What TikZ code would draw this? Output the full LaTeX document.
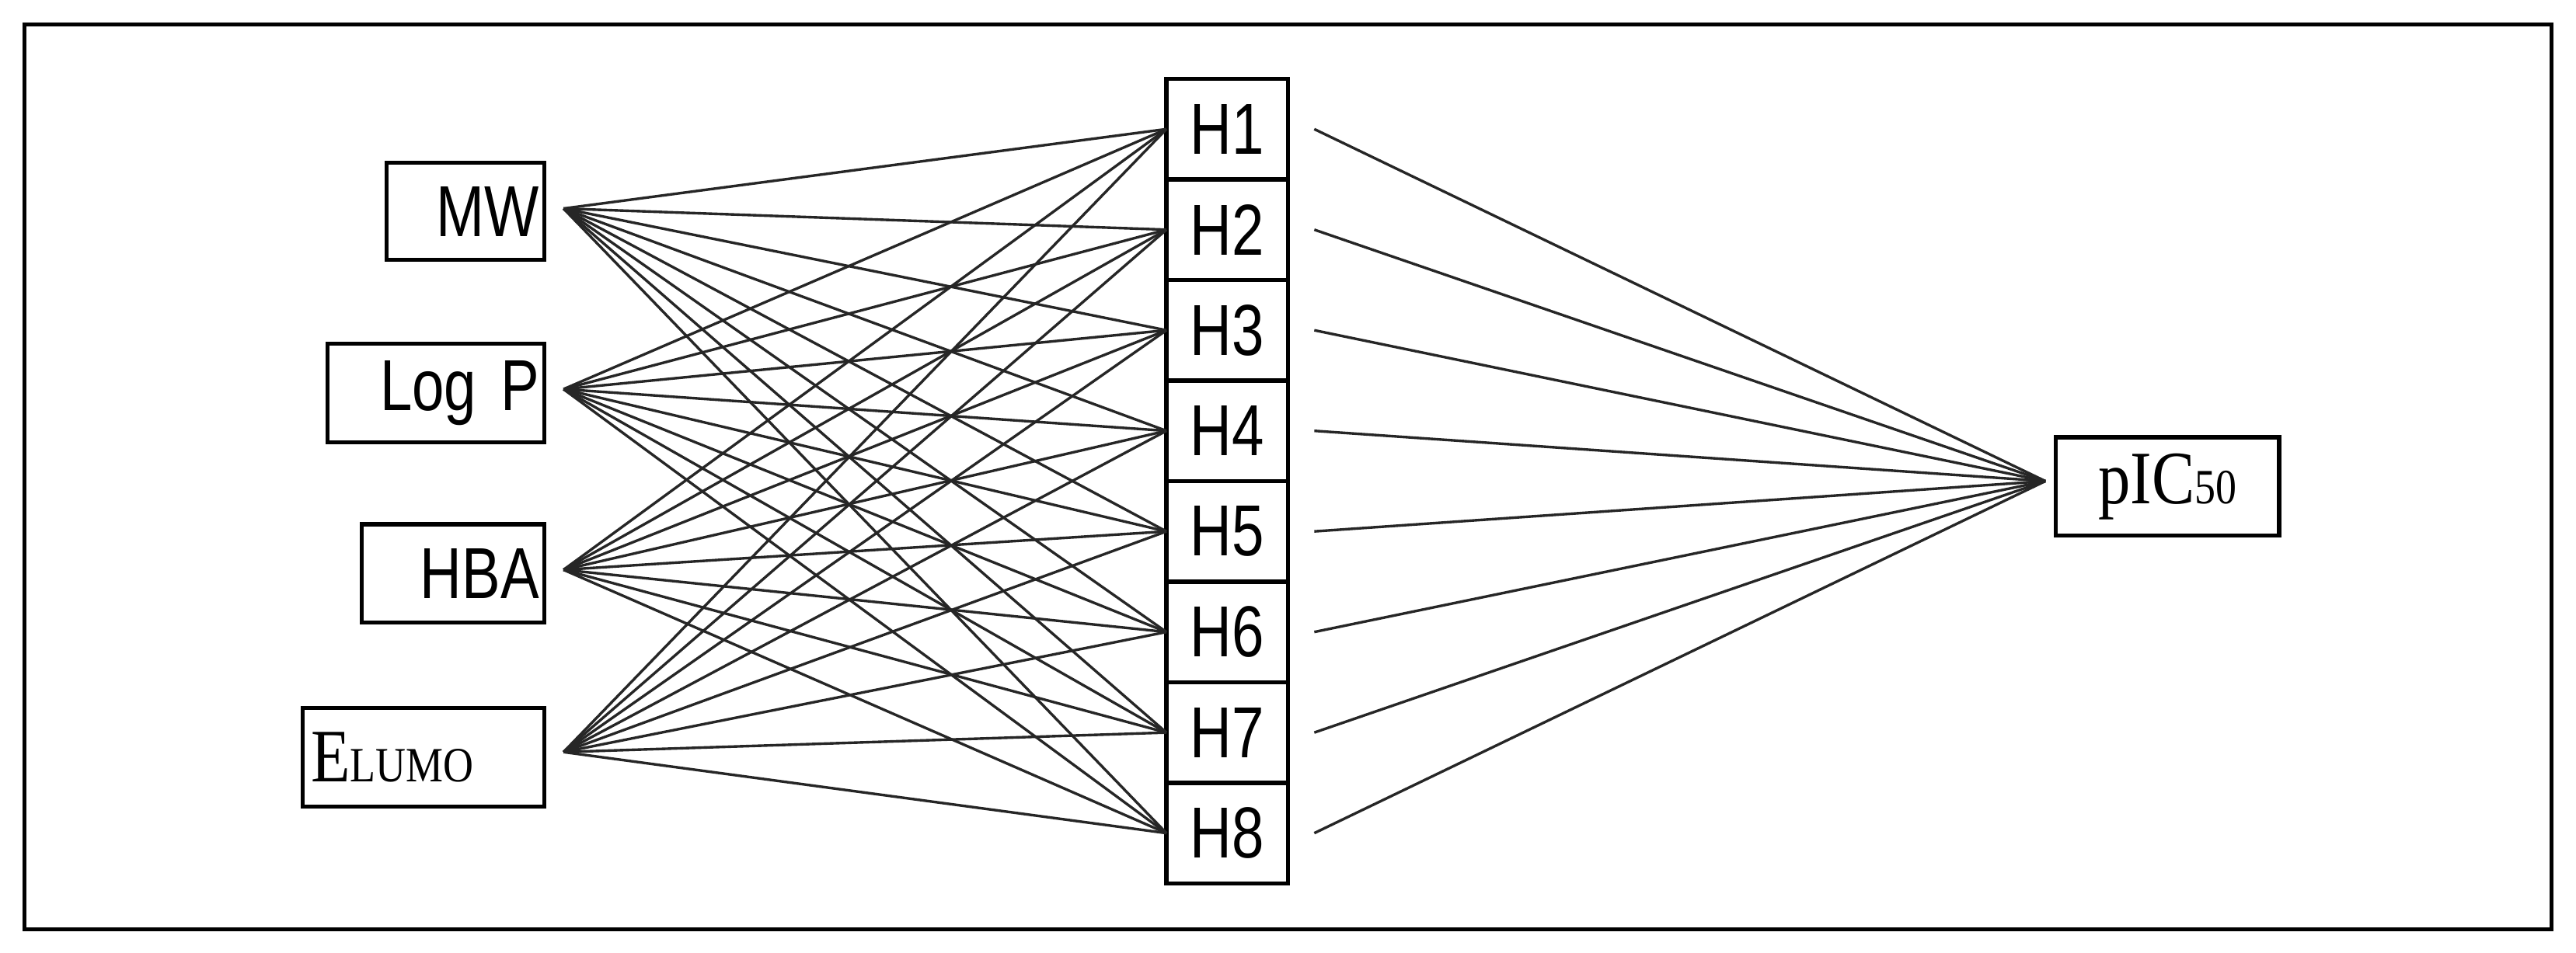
\documentclass[tikz,border=0pt]{standalone}
\usepackage{fontspec}
\setmainfont{Liberation Sans}[FakeStretch=0.8]
\newfontfamily\tnr{Liberation Serif}[FakeStretch=0.85]
\begin{document}
\begin{tikzpicture}[x=1pt,y=-1pt,
  lab/.style={draw,line width=2.5pt,inner sep=0pt,font=\fontsize{44}{44}\selectfont},
  hid/.style={draw,line width=2.5pt,minimum width=74pt,minimum height=61.25pt,inner sep=0pt,font=\fontsize{44}{44}\selectfont},
  con/.style={line width=1.6pt,black!85}]
\useasboundingbox (0,0) rectangle (1568,580);
\draw[line width=2.5pt] (15,15) rectangle (1553,566);
% inputs
\node[lab,minimum width=96pt,minimum height=59pt,anchor=north west,text width=90pt,align=right] (MW) at (234,98) {MW};
\node[lab,minimum width=132pt,minimum height=60pt,anchor=north west,text width=126pt,align=right] (LP) at (198,208) {Log P};
\node[lab,minimum width=111pt,minimum height=60pt,anchor=north west,text width=105pt,align=right] (HBA) at (219,318) {HBA};
\node[lab,minimum width=147pt,minimum height=60pt,anchor=north west,text width=137pt,align=left] (EL) at (183,430) {\tnr\fontsize{46}{46}\selectfont E\fontsize{30}{30}\selectfont LUMO};
\coordinate (i1) at (343,127);
\coordinate (i2) at (343,237);
\coordinate (i3) at (343,347);
\coordinate (i4) at (343,458);
% hidden
\foreach \k in {1,...,8}{
  \node[hid] (H\k) at (747,{48+61.25*(\k-0.5)}) {H\k};
  \coordinate (hl\k) at (710,{48+61.25*(\k-0.5)});
  \coordinate (hr\k) at (800,{48+61.25*(\k-0.5)});
}
% output
\node[lab,minimum width=136pt,minimum height=60pt,anchor=north west] (OUT) at (1250,265) {\tnr\fontsize{46}{46}\selectfont pIC\fontsize{30}{30}\selectfont 50};
\coordinate (o) at (1245,293);
\foreach \i in {1,...,4}{\foreach \k in {1,...,8}{\draw[con] (i\i) -- (hl\k);}}
\foreach \k in {1,...,8}{\draw[con] (hr\k) -- (o);}
\end{tikzpicture}
\end{document}
